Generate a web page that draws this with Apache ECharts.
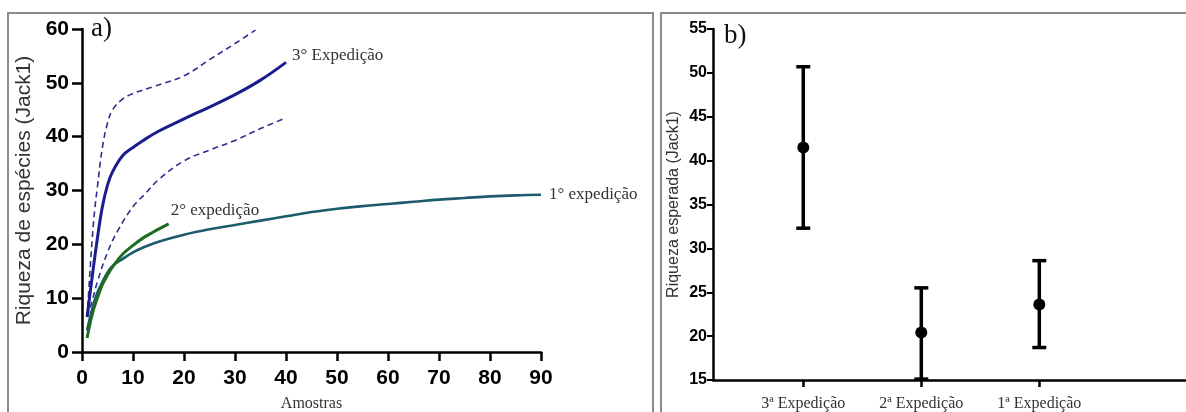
<!DOCTYPE html>
<html lang="pt">
<head>
    <meta charset="UTF-8">
    <script src="https://cdn.jsdelivr.net/npm/echarts@6/dist/echarts.min.js"></script>
    <title>Riqueza Jack1</title>
    <style>
        html, body { margin: 0; padding: 0; background: #fff; }
    </style>
</head>
<body>
    <div id="main" style="width:1186px;height:412px;"></div>
<script type="text/javascript">
    // a) curvas de acumulacao (amostras, riqueza Jack1)
    var exp3X = [1, 2, 3, 4, 5, 6, 8, 10, 12, 15, 20, 25, 30, 35, 40];
    var exp3Y = [6.5, 14, 21, 27, 31, 33.5, 36.5, 38, 39.3, 41, 43.3, 45.5, 47.8, 50.5, 53.8];
    var exp3UpX = [1, 1.5, 2, 2.5, 3, 4, 5, 6, 8, 10, 14, 20, 25, 30, 34];
    var exp3UpY = [6.5, 14, 21, 26.5, 30.5, 38, 42.5, 45, 47, 48, 49.3, 51.3, 54.3, 57.3, 59.8];
    var exp3LoX = [1, 2, 3, 5, 7, 10, 12.5, 15, 20, 25, 30, 35, 40];
    var exp3LoY = [6.5, 9.5, 13, 18.5, 22.5, 27, 29.5, 32, 35.5, 37.5, 39.3, 41.5, 43.5];
    var exp2X = [1, 2, 3, 4, 5, 6, 8, 10, 12, 14, 17];
    var exp2Y = [2.6, 7, 10, 12.5, 14.3, 15.8, 18.2, 19.8, 21.2, 22.3, 23.8];
    var exp1X = [1, 2, 3, 4, 5, 6, 8, 10, 12, 15, 20, 25, 30, 35, 40, 45, 50, 55, 60, 65, 70, 75, 80, 85, 90];
    var exp1Y = [4, 8, 11, 13, 14.8, 16, 17.3, 18.5, 19.4, 20.5, 21.8, 22.8, 23.6, 24.4, 25.2, 26, 26.6, 27.1, 27.5, 27.9, 28.3, 28.6, 28.9, 29.1, 29.2];

    // b) riqueza esperada por expedicao
    var expLabels = ['3ª Expedição', '2ª Expedição', '1ª Expedição'];
    var expMean = [41.5, 20.4, 23.6];
    var expLow = [32.3, 15.1, 18.7];
    var expHigh = [50.7, 25.5, 28.6];

    function pares(xs, ys) {
        var out = [];
        for (var i = 0; i < xs.length; i++) out.push([xs[i], ys[i]]);
        return out;
    }

    var chart = echarts.init(document.getElementById('main'));
    var serif = 'Liberation Serif';
    var sans = 'Liberation Sans';

    var lineaBase = {
        type: 'line', smooth: 0.4, symbol: 'none', xAxisIndex: 0, yAxisIndex: 0,
        silent: true, animation: false
    };

    function endLbl(txt, offset) {
        return {
            show: true, formatter: txt, fontFamily: serif, fontSize: 17, color: '#333',
            distance: 6, offset: offset
        };
    }

    var option = {
        animation: false,
        graphic: [
            { type: 'rect', shape: { x: 8, y: 13, width: 645, height: 420 }, style: { fill: 'none', stroke: '#8c8c8c', lineWidth: 2 } },
            { type: 'rect', shape: { x: 661, y: 13, width: 540, height: 420 }, style: { fill: 'none', stroke: '#8c8c8c', lineWidth: 2 } },
            { type: 'text', left: 91, top: 15, style: { text: 'a)', font: '27px "Liberation Serif"', fill: '#111' } },
            { type: 'text', left: 724, top: 22, style: { text: 'b)', font: '27px "Liberation Serif"', fill: '#111' } }
        ],
        grid: [
            { left: 82, top: 29, width: 459, height: 323, outerBoundsMode: 'none' },
            { left: 713, top: 29, width: 473, height: 351, outerBoundsMode: 'none' }
        ],
        xAxis: [
            {
                gridIndex: 0, type: 'value', min: 0, max: 90, interval: 10,
                name: 'Amostras', nameLocation: 'middle', nameGap: 44,
                nameTextStyle: { fontFamily: serif, fontSize: 16, color: '#333' },
                axisLine: { onZero: false, lineStyle: { color: '#000', width: 2.5 } },
                axisTick: { length: 9, lineStyle: { color: '#000', width: 2.5 } },
                axisLabel: { margin: 16, fontFamily: sans, fontSize: 21, fontWeight: 'bold', color: '#000' },
                splitLine: { show: false }
            },
            {
                gridIndex: 1, type: 'value', min: 0.235, max: 4.243,
                axisLine: { onZero: false, lineStyle: { color: '#000', width: 2.5 } },
                axisTick: { length: 7, customValues: [1, 2, 3], lineStyle: { color: '#000', width: 2.5 } },
                axisLabel: {
                    margin: 16, fontFamily: serif, fontSize: 16, color: '#333',
                    customValues: [1, 2, 3],
                    formatter: function (v) { return expLabels[Math.round(v) - 1] || ''; }
                },
                splitLine: { show: false }
            }
        ],
        yAxis: [
            {
                gridIndex: 0, type: 'value', min: 0, max: 60, interval: 10,
                name: 'Riqueza de espécies (Jack1)', nameLocation: 'middle', nameGap: 47,
                nameTextStyle: { fontFamily: sans, fontSize: 21, color: '#333' },
                axisLine: { show: true, lineStyle: { color: '#000', width: 2.5 } },
                axisTick: { show: true, length: 10, lineStyle: { color: '#000', width: 2.5 } },
                axisLabel: { margin: 13, fontFamily: sans, fontSize: 21, fontWeight: 'bold', color: '#000' },
                splitLine: { show: false }
            },
            {
                gridIndex: 1, type: 'value', min: 15, max: 55, interval: 5,
                name: 'Riqueza esperada (Jack1)', nameLocation: 'middle', nameGap: 31,
                nameTextStyle: { fontFamily: sans, fontSize: 16, color: '#333' },
                axisLine: { show: true, lineStyle: { color: '#000', width: 2.5 } },
                axisTick: { show: true, length: 6, lineStyle: { color: '#000', width: 2 } },
                axisLabel: { margin: 6, fontFamily: sans, fontSize: 16, fontWeight: 'bold', color: '#000' },
                splitLine: { show: false }
            }
        ],
        series: [
            Object.assign({}, lineaBase, {
                name: 'sup', data: pares(exp3UpX, exp3UpY),
                lineStyle: { color: '#2e2e8c', width: 1.6, type: [6, 4] }
            }),
            Object.assign({}, lineaBase, {
                name: 'inf', data: pares(exp3LoX, exp3LoY),
                lineStyle: { color: '#2e2e8c', width: 1.6, type: [6, 4] }
            }),
            Object.assign({}, lineaBase, {
                name: '1', data: pares(exp1X, exp1Y),
                lineStyle: { color: '#1d5a6c', width: 2.6 },
                endLabel: endLbl('1° expedição', [2, 0])
            }),
            Object.assign({}, lineaBase, {
                name: '2', data: pares(exp2X, exp2Y),
                lineStyle: { color: '#1e6b22', width: 3 },
                endLabel: endLbl('2° expedição', [-4, -13])
            }),
            Object.assign({}, lineaBase, {
                name: '3', data: pares(exp3X, exp3Y),
                lineStyle: { color: '#1c1c8c', width: 3 },
                endLabel: endLbl('3° Expedição', [0, -7])
            }),
            {
                type: 'custom', xAxisIndex: 1, yAxisIndex: 1, silent: true,
                data: expLabels.map(function (l, i) { return [i + 1, expLow[i], expHigh[i]]; }),
                renderItem: function (params, api) {
                    var lo = api.coord([api.value(0), api.value(1)]);
                    var hi = api.coord([api.value(0), api.value(2)]);
                    var w = 7;
                    var st = { stroke: '#000', lineWidth: 3.5 };
                    return {
                        type: 'group',
                        children: [
                            { type: 'line', shape: { x1: lo[0], y1: lo[1], x2: hi[0], y2: hi[1] }, style: st },
                            { type: 'line', shape: { x1: hi[0] - w, y1: hi[1], x2: hi[0] + w, y2: hi[1] }, style: st },
                            { type: 'line', shape: { x1: lo[0] - w, y1: lo[1], x2: lo[0] + w, y2: lo[1] }, style: st }
                        ]
                    };
                }
            },
            {
                type: 'scatter', xAxisIndex: 1, yAxisIndex: 1, silent: true,
                symbol: 'circle', symbolSize: 12,
                itemStyle: { color: '#000', opacity: 1 },
                data: expLabels.map(function (l, i) { return [i + 1, expMean[i]]; })
            }
        ]
    };

    chart.setOption(option);
</script>
</body>
</html>
